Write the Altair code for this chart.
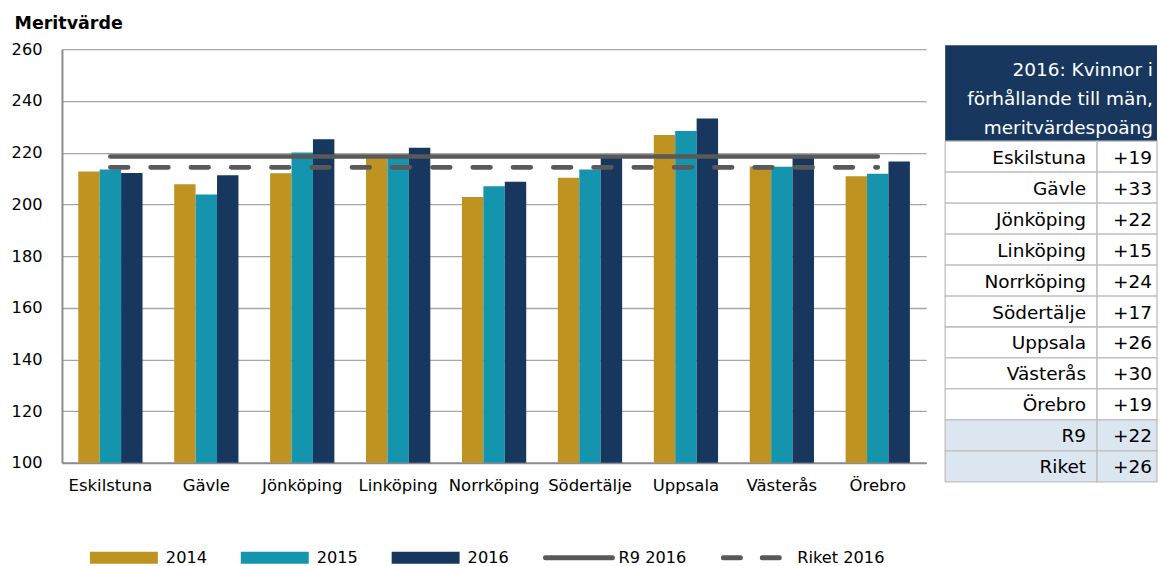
import altair as alt
import pandas as pd

# ---------------- data ----------------
cities = ["Eskilstuna", "Gävle", "Jönköping", "Linköping", "Norrköping",
          "Södertälje", "Uppsala", "Västerås", "Örebro"]
years = ["2014", "2015", "2016"]
v2014 = [212.7, 207.8, 212.0, 218.9, 202.8, 210.3, 226.8, 214.6, 210.9]
v2015 = [213.5, 203.8, 220.0, 218.7, 207.0, 213.5, 228.4, 214.5, 211.8]
v2016 = [212.1, 211.2, 225.2, 221.9, 208.7, 218.6, 233.2, 218.6, 216.6]
r9_2016 = 218.5
riket_2016 = 214.3
y_ticks = [100, 120, 140, 160, 180, 200, 220, 240, 260]

table_header = ["2016: Kvinnor i", "förhållande till män,", "meritvärdespoäng"]
table_names = ["Eskilstuna", "Gävle", "Jönköping", "Linköping", "Norrköping",
               "Södertälje", "Uppsala", "Västerås", "Örebro", "R9", "Riket"]
table_values = ["+19", "+33", "+22", "+15", "+24", "+17", "+26", "+30", "+19",
                "+22", "+26"]
table_kind = ["kommun"] * 9 + ["total"] * 2

legend_labels = ["2014", "2015", "2016", "R9 2016", "Riket 2016"]

# ---------------- styles ----------------
FONT = "DejaVu Sans"
bar_colors = ["#BF9322", "#1594AE", "#17375E"]
line_color = "#595959"
header_color = "#17375E"

# ---------------- main chart ----------------
rows = []
for yr, vals in zip(years, [v2014, v2015, v2016]):
    for c, v in zip(cities, vals):
        rows.append({"city": c, "year": yr, "value": v})
bars_df = pd.DataFrame(rows)
r9_df = pd.DataFrame({"city": cities, "value": [r9_2016] * len(cities)})
riket_df = pd.DataFrame({"city": cities, "value": [riket_2016] * len(cities)})

y_scale = alt.Scale(domain=[y_ticks[0], y_ticks[-1]], nice=False, zero=False)
x_enc = alt.X(
    "city:N", sort=cities,
    scale=alt.Scale(paddingInner=0.33, paddingOuter=0.17),
    axis=alt.Axis(title=None, labelAngle=0, labelFontSize=16.5, labelFont=FONT,
                  labelColor="black", labelPadding=15, ticks=False,
                  domainColor="#8c8c8c", domainWidth=2),
)

bars = alt.Chart(bars_df).mark_bar().encode(
    x=x_enc,
    xOffset=alt.XOffset("year:N", sort=years,
                        scale=alt.Scale(paddingInner=0, paddingOuter=0)),
    y=alt.Y("value:Q", scale=y_scale,
            axis=alt.Axis(values=y_ticks, grid=True, gridColor="#a6a6a6",
                          gridWidth=1.3, domainColor="#8c8c8c", domainWidth=2,
                          ticks=False, labelPadding=20, labelFontSize=16.2,
                          labelFont=FONT, labelColor="black",
                          title="Meritvärde", titleAngle=0, titleAlign="left",
                          titleBaseline="alphabetic", titleX=-48, titleY=-20.5,
                          titleFontSize=17.5, titleFontWeight="bold",
                          titleFont=FONT, titleColor="black")),
    y2=alt.datum(y_ticks[0]),
    color=alt.Color("year:N", scale=alt.Scale(domain=years, range=bar_colors),
                    legend=None),
)

r9_line = alt.Chart(r9_df).mark_line(
    color=line_color, strokeWidth=4.7, strokeCap="round"
).encode(x=alt.X("city:N", sort=cities), y=alt.Y("value:Q", scale=y_scale))

riket_line = alt.Chart(riket_df).mark_line(
    color=line_color, strokeWidth=4.7, strokeCap="round", strokeDash=[17.7, 22.6]
).encode(x=alt.X("city:N", sort=cities), y=alt.Y("value:Q", scale=y_scale))

main = alt.layer(bars, r9_line, riket_line).properties(width=865, height=414)

# ---------------- table ----------------
header_units = 3.1
n_rows = len(table_names)
total_units = header_units + n_rows
t_scale = alt.Scale(domain=[0, total_units], range=[-4, 433], nice=False, zero=False)

tab_df = pd.DataFrame({
    "name": table_names,
    "val": table_values,
    "kind": table_kind,
    "y0": [header_units + i for i in range(n_rows)],
    "y1": [header_units + i + 1 for i in range(n_rows)],
    "ym": [header_units + i + 0.5 for i in range(n_rows)],
})
head_df = pd.DataFrame({"y0": [0.0], "y1": [header_units]})

TW = 212
C1 = 152

head_rect = alt.Chart(head_df).mark_rect(color=header_color).encode(
    x=alt.value(0), x2=alt.value(TW),
    y=alt.Y("y0:Q", scale=t_scale, axis=None), y2="y1:Q")
head_text = alt.Chart(head_df).mark_text(
    text=table_header, align="right", baseline="alphabetic", fontSize=18.5,
    font=FONT, color="white", lineHeight=29, dy=30.7
).encode(x=alt.value(TW - 4), y=alt.Y("y0:Q", scale=t_scale, axis=None))

fill_enc = alt.Fill("kind:N", scale=alt.Scale(domain=["kommun", "total"],
                                              range=["white", "#DCE6F1"]),
                    legend=None)
name_cells = alt.Chart(tab_df).mark_rect(stroke="#bfbfbf", strokeWidth=1.3).encode(
    x=alt.value(0), x2=alt.value(C1),
    y=alt.Y("y0:Q", scale=t_scale, axis=None), y2="y1:Q", fill=fill_enc)
val_cells = alt.Chart(tab_df).mark_rect(stroke="#bfbfbf", strokeWidth=1.3).encode(
    x=alt.value(C1), x2=alt.value(TW),
    y=alt.Y("y0:Q", scale=t_scale, axis=None), y2="y1:Q", fill=fill_enc)
name_text = alt.Chart(tab_df).mark_text(
    align="right", baseline="middle", fontSize=18.5, font=FONT, color="black", dy=1
).encode(x=alt.value(C1 - 11), y=alt.Y("ym:Q", scale=t_scale, axis=None),
         text="name:N")
val_text = alt.Chart(tab_df).mark_text(
    align="right", baseline="middle", fontSize=18.5, font=FONT, color="black", dy=1
).encode(x=alt.value(TW - 5), y=alt.Y("ym:Q", scale=t_scale, axis=None),
         text="val:N")

table = alt.layer(head_rect, name_cells, val_cells, head_text, name_text,
                  val_text).properties(width=TW, height=414)

# ---------------- legend ----------------
leg_df = pd.DataFrame({"label": legend_labels})
leg_x = alt.X("label:N", sort=legend_labels, bandPosition=0,
              scale=alt.Scale(range=[28, 783], paddingInner=0, paddingOuter=0),
              axis=None)
leg_x2 = alt.X2("label:N", bandPosition=0)
LY = alt.value(9)

leg_rects = alt.Chart(leg_df).transform_filter(
    alt.FieldOneOfPredicate(field="label", oneOf=years)
).mark_rule(strokeWidth=12, strokeCap="butt", x2Offset=68).encode(
    x=leg_x, x2=leg_x2, y=LY,
    color=alt.Color("label:N", scale=alt.Scale(domain=years, range=bar_colors),
                    legend=None))
leg_solid = alt.Chart(leg_df).transform_filter(
    alt.datum.label == legend_labels[3]
).mark_rule(strokeWidth=5, strokeCap="round", color=line_color,
            xOffset=3, x2Offset=70).encode(x=leg_x, x2=leg_x2, y=LY)
leg_dash = alt.Chart(leg_df).transform_filter(
    alt.datum.label == legend_labels[4]
).mark_rule(strokeWidth=5, strokeCap="round", color=line_color,
            strokeDash=[17, 22], xOffset=30, x2Offset=86).encode(
    x=leg_x, x2=leg_x2, y=LY)
leg_text = alt.Chart(leg_df).transform_filter(
    alt.datum.label != legend_labels[4]
).mark_text(align="left", baseline="middle", fontSize=16.2, font=FONT,
            color="black", dx=76).encode(x=leg_x, y=LY, text="label:N")
leg_text2 = alt.Chart(leg_df).transform_filter(
    alt.datum.label == legend_labels[4]
).mark_text(align="left", baseline="middle", fontSize=16.2, font=FONT,
            color="black", dx=104).encode(x=leg_x, y=LY, text="label:N")

legend = alt.layer(leg_rects, leg_solid, leg_dash, leg_text, leg_text2).properties(
    width=865, height=16)

chart = alt.concat(
    main, table, legend, columns=2, bounds="flush", align="each",
    spacing={"row": 86, "column": 19},
).properties(
    padding={"left": 3, "top": 6, "right": 0, "bottom": 0}
).configure(font=FONT).configure_view(stroke=None)

chart.save("out.html", embed_options={"renderer": "svg", "actions": False})
